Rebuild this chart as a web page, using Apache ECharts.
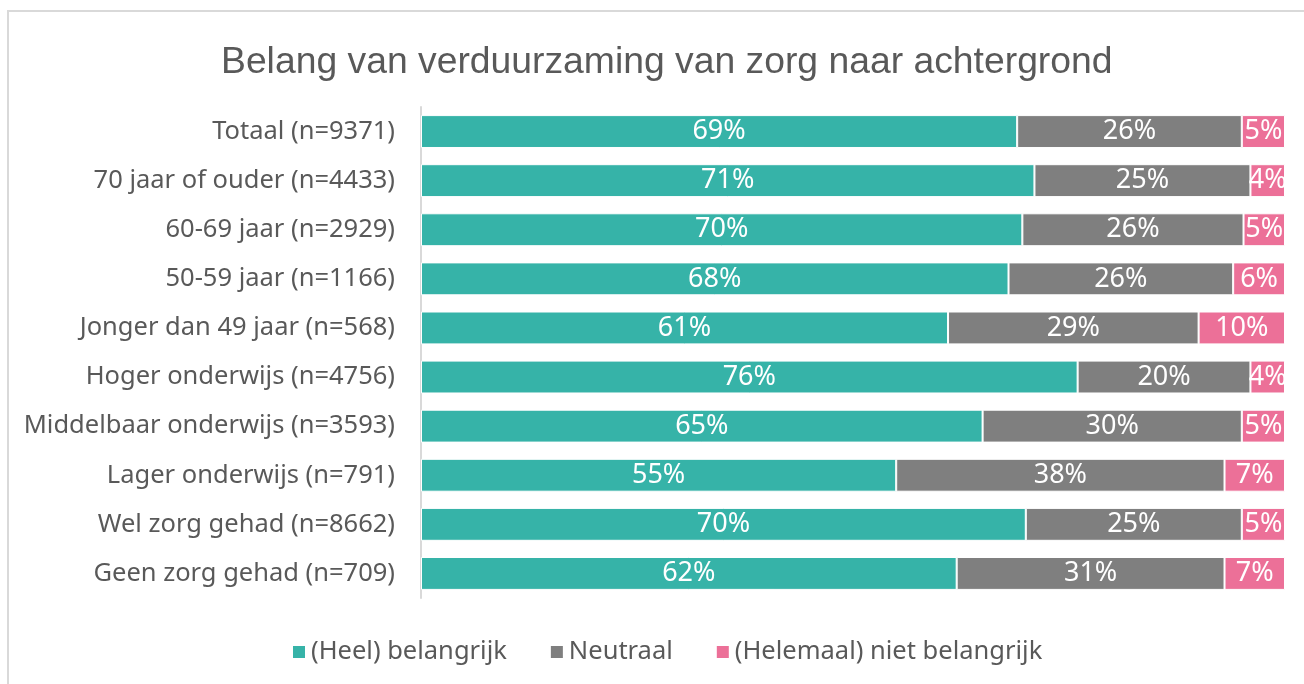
<!DOCTYPE html>
<html>
<head>
<meta charset="utf-8">
<script src="https://cdn.jsdelivr.net/npm/echarts@6/dist/echarts.min.js"></script>
<style>
  html, body { margin: 0; padding: 0; background: #fff; overflow: hidden; }
  #frame { position: absolute; left: 7px; top: 10px; width: 1320px; height: 700px; border: 2px solid #d9d9d9; box-sizing: border-box; }
  #chart { position: absolute; left: 0; top: 0; width: 1304px; height: 684px; }
</style>
</head>
<body>
<div id="frame"></div>
<div id="chart"></div>
<script>
const categories = [
  'Totaal (n=9371)',
  '70 jaar of ouder (n=4433)',
  '60-69 jaar (n=2929)',
  '50-59 jaar (n=1166)',
  'Jonger dan 49 jaar (n=568)',
  'Hoger onderwijs (n=4756)',
  'Middelbaar onderwijs (n=3593)',
  'Lager onderwijs (n=791)',
  'Wel zorg gehad (n=8662)',
  'Geen zorg gehad (n=709)'
]
const belangrijk = [69, 71, 69.6, 68, 61, 76, 65, 55, 70, 62]
const neutraal = [26, 25, 25.6, 26, 29, 20, 30, 38, 25, 31]
const nietBelangrijk = [5, 4, 4.8, 6, 10, 4, 5, 7, 5, 7]
const seriesNames = ['(Heel) belangrijk', 'Neutraal', '(Helemaal) niet belangrijk']
const colors = ['#36b3a8', '#7f7f7f', '#ec7098']

const labelFont = '"Noto Sans", sans-serif'

const chart = echarts.init(document.getElementById('chart'))

function makeSeries(name, data, color) {
  return {
    name: name,
    type: 'bar',
    stack: 'total',
    barCategoryGap: '33%',
    data: data,
    itemStyle: { color: color, borderColor: '#ffffff', borderWidth: 1 },
    label: {
      show: true,
      position: 'inside',
      color: '#ffffff',
      fontFamily: labelFont,
      fontSize: 27,
      formatter: p => Math.round(p.value) + '%'
    }
  }
}

chart.setOption({
  animation: false,
  title: {
    text: 'Belang van verduurzaming van zorg naar achtergrond',
    left: 216,
    top: 39,
    textStyle: { fontFamily: '"Liberation Sans", Arial, sans-serif', fontSize: 37.3, fontWeight: 'normal', color: '#595959' }
  },
  legend: {
    bottom: 14,
    left: 286,
    itemWidth: 14,
    itemHeight: 14,
    itemGap: 42,
    icon: 'rect',
    textStyle: { fontFamily: labelFont, fontSize: 25.5, color: '#595959' },
    data: seriesNames
  },
  grid: { left: 421, right: 19, top: 107, bottom: 86, containLabel: false },
  xAxis: {
    type: 'value',
    min: 0,
    max: 100,
    show: false
  },
  yAxis: {
    type: 'category',
    inverse: true,
    data: categories,
    axisLine: { lineStyle: { color: '#d9d9d9', width: 2 } },
    axisTick: { show: false },
    axisLabel: { fontFamily: labelFont, fontSize: 25.5, color: '#595959', margin: 26 }
  },
  series: [
    makeSeries(seriesNames[0], belangrijk, colors[0]),
    makeSeries(seriesNames[1], neutraal, colors[1]),
    makeSeries(seriesNames[2], nietBelangrijk, colors[2])
  ]
})
</script>
</body>
</html>
